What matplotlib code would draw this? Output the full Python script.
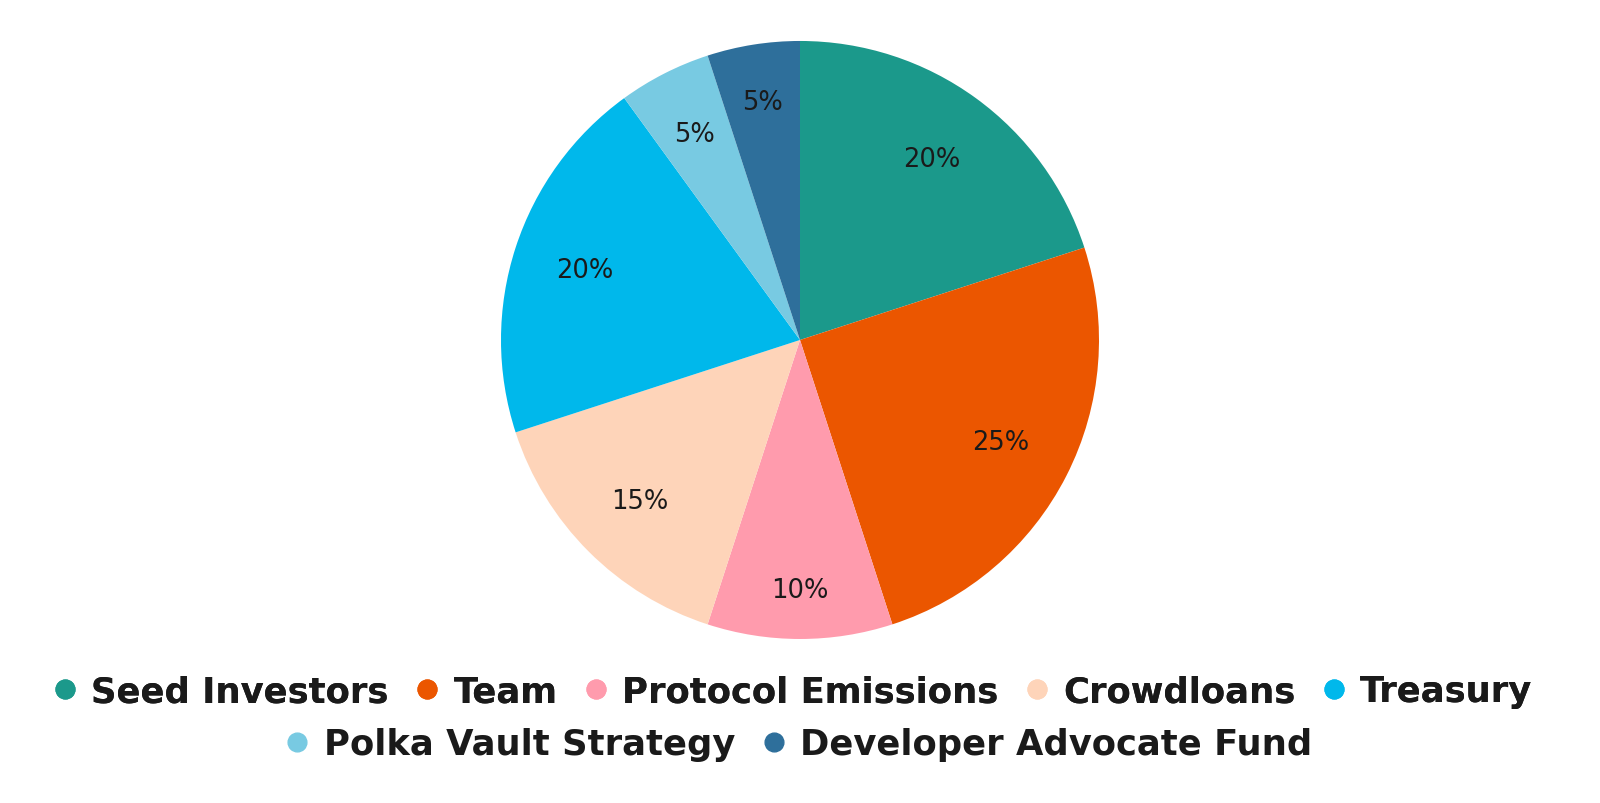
import numpy as np
import matplotlib.pyplot as plt
from matplotlib.lines import Line2D

labels = ['Seed Investors', 'Team', 'Protocol Emissions', 'Crowdloans', 'Treasury',
          'Polka Vault Strategy', 'Developer Advocate Fund']
shares = [20, 25, 10, 15, 20, 5, 5]
colors = ['#1b998b', '#eb5600', '#ff9bad', '#fed4b9', '#00b8eb', '#78cae2', '#2e6f9b']
# radial position of each percentage label (fraction of radius)
label_r = [0.75, 0.755, 0.836, 0.76, 0.758, 0.775, 0.805]

fig = plt.figure(figsize=(16, 8.04), dpi=100)
ax = fig.add_axes([0.313, 0.204, 0.374, 0.7438])

wedges, texts = ax.pie(shares, colors=colors, startangle=90, counterclock=False)
ax.set_xlim(-1, 1)
ax.set_ylim(-1, 1)
ax.set_aspect('equal')

total = sum(shares)
for w, v, r in zip(wedges, shares, label_r):
    ang = np.deg2rad((w.theta1 + w.theta2) / 2)
    ax.text(r * np.cos(ang), r * np.sin(ang), f'{round(100 * v / total)}%',
            ha='center', va='center', fontsize=18.5, color='#1a1a1a')

# legend split in two centred rows like the original
handles = [Line2D([], [], marker='o', linestyle='', markersize=13.5,
                  markerfacecolor=c, markeredgecolor=c) for c in colors]
leg_font = {'size': 25.5, 'weight': 'bold'}
kw = dict(loc='center', frameon=False, prop=leg_font, handletextpad=0.25,
          columnspacing=0.58, handlelength=1.0, labelcolor='#1a1a1a')
leg1 = fig.legend(handles[:5], labels[:5], bbox_to_anchor=(0.4936, 0.139), ncol=5, **kw)
leg2 = fig.legend(handles[5:], labels[5:], bbox_to_anchor=(0.4975, 0.073), ncol=2, **kw)
fig.add_artist(leg1)

fig.savefig('out.png', dpi=100)
